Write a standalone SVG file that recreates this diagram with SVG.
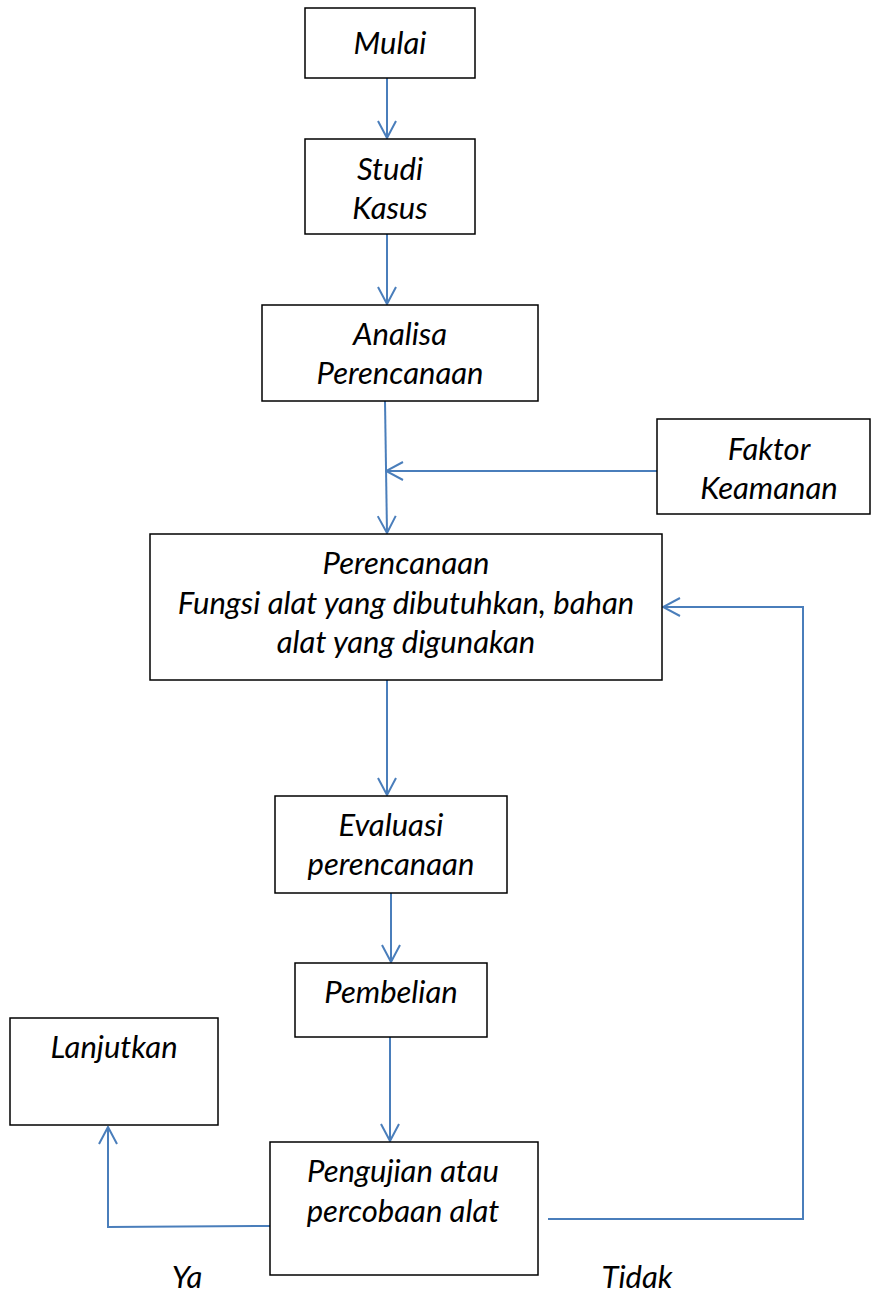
<svg xmlns="http://www.w3.org/2000/svg" width="871" height="1293" viewBox="0 0 871 1293">
<defs>
<style>
.box{fill:#fff;stroke:#000;stroke-width:1.5}
.t{font-family:Lato,"Liberation Sans",sans-serif;font-style:italic;font-size:31px;fill:#000;text-anchor:middle}
.c{fill:none;stroke:#4a7ebb;stroke-width:2}
</style>
<marker id="a" viewBox="0 0 20 20" refX="19" refY="10" markerWidth="20" markerHeight="20" markerUnits="userSpaceOnUse" orient="auto">
<path d="M2,1 L19,10 L2,19" fill="none" stroke="#4a7ebb" stroke-width="2"/>
</marker>
</defs>
<rect width="871" height="1293" fill="#fff"/>
<g id="connectors">
<line class="c" x1="387" y1="78" x2="387" y2="138" marker-end="url(#a)"/>
<line class="c" x1="387" y1="234" x2="387" y2="304" marker-end="url(#a)"/>
<line class="c" x1="385" y1="401" x2="387" y2="533" marker-end="url(#a)"/>
<line class="c" x1="657" y1="471" x2="386" y2="471" marker-end="url(#a)"/>
<line class="c" x1="387" y1="680" x2="387" y2="795" marker-end="url(#a)"/>
<line class="c" x1="391" y1="893" x2="391" y2="962" marker-end="url(#a)"/>
<line class="c" x1="390" y1="1037" x2="390" y2="1141" marker-end="url(#a)"/>
<polyline class="c" points="270,1226 108,1227 108,1127" marker-end="url(#a)"/>
<polyline class="c" points="548,1219 803,1219 803,607 663,607" marker-end="url(#a)"/>
</g>
<g id="mulai"><rect class="box" x="305" y="8" width="170" height="70"/><text class="t" x="390" y="54">Mulai</text></g>
<g id="studi"><rect class="box" x="305" y="139" width="170" height="95"/><text class="t" x="390" y="180">Studi</text><text class="t" x="390" y="219">Kasus</text></g>
<g id="analisa"><rect class="box" x="262" y="305" width="276" height="96"/><text class="t" x="400" y="345">Analisa</text><text class="t" x="400" y="384">Perencanaan</text></g>
<g id="faktor"><rect class="box" x="657" y="419" width="213" height="95"/><text class="t" x="769" y="460">Faktor</text><text class="t" x="769" y="499">Keamanan</text></g>
<g id="perencanaan"><rect class="box" x="150" y="534" width="512" height="146"/><text class="t" x="406" y="574">Perencanaan</text><text class="t" x="406" y="614">Fungsi alat yang dibutuhkan, bahan</text><text class="t" x="406" y="653">alat yang digunakan</text></g>
<g id="evaluasi"><rect class="box" x="275" y="796" width="232" height="97"/><text class="t" x="391" y="836">Evaluasi</text><text class="t" x="391" y="875">perencanaan</text></g>
<g id="pembelian"><rect class="box" x="295" y="963" width="192" height="74"/><text class="t" x="391" y="1003">Pembelian</text></g>
<g id="lanjutkan"><rect class="box" x="10" y="1018" width="208" height="107"/><text class="t" x="114" y="1058">Lanjutkan</text></g>
<g id="pengujian"><rect class="box" x="270" y="1142" width="268" height="133"/><text class="t" x="403" y="1182">Pengujian atau</text><text class="t" x="403" y="1222">percobaan alat</text></g>
<g id="labels"><text class="t" x="187" y="1288">Ya</text><text class="t" x="637" y="1288">Tidak</text></g>
</svg>
